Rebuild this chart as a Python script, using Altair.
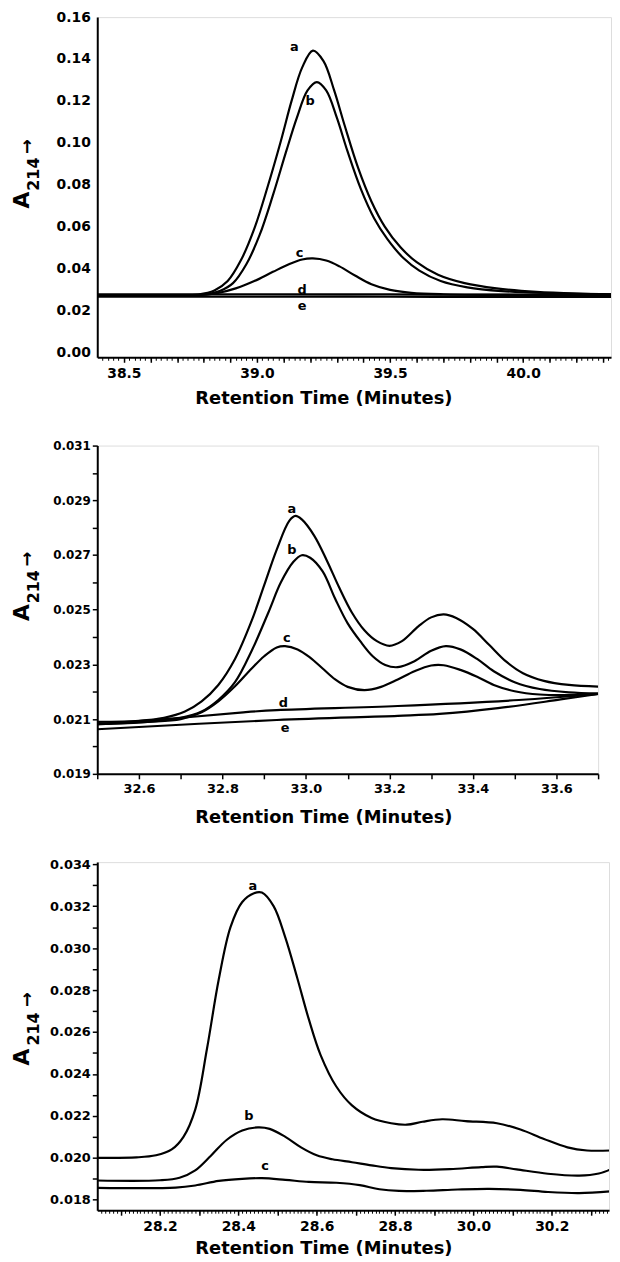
import json
import altair as alt
import pandas as pd

FONT = "DejaVu Sans"
X_TITLE = "Retention Time (Minutes)"
Y_TITLE_PARTS = ["A", "214", "→"]

# ---------------- Panel 1 (top) ----------------
P1_NAMES = ["a", "b", "c", "d", "e"]
P1_A_T = [38.40, 38.70, 38.78, 38.84, 38.89, 38.94, 38.99, 39.04, 39.09, 39.13, 39.17, 39.21, 39.25, 39.29, 39.33, 39.38, 39.43, 39.48, 39.54, 39.60, 39.68, 39.78, 39.90, 40.05, 40.20, 40.33]
P1_A_V = [0.0272, 0.0272, 0.0276, 0.0295, 0.0340, 0.0440, 0.0590, 0.0790, 0.1010, 0.1200, 0.1360, 0.1440, 0.1390, 0.1250, 0.1080, 0.0880, 0.0720, 0.0600, 0.0500, 0.0430, 0.0370, 0.0330, 0.0305, 0.0288, 0.0280, 0.0277]
P1_B_T = [38.40, 38.74, 38.81, 38.86, 38.91, 38.96, 39.01, 39.06, 39.11, 39.15, 39.19, 39.225, 39.26, 39.30, 39.34, 39.39, 39.44, 39.49, 39.55, 39.61, 39.69, 39.79, 39.92, 40.10, 40.33]
P1_B_V = [0.0272, 0.0272, 0.0276, 0.0292, 0.0330, 0.0420, 0.0560, 0.0750, 0.0960, 0.1120, 0.1250, 0.1290, 0.1250, 0.1120, 0.0960, 0.0780, 0.0640, 0.0540, 0.0450, 0.0390, 0.0340, 0.0310, 0.0292, 0.0282, 0.0276]
P1_C_T = [38.40, 38.78, 38.85, 38.92, 38.99, 39.06, 39.12, 39.17, 39.21, 39.26, 39.31, 39.37, 39.43, 39.50, 39.58, 39.70, 39.90, 40.33]
P1_C_V = [0.0272, 0.0273, 0.0282, 0.0305, 0.0340, 0.0384, 0.0420, 0.0443, 0.0448, 0.0438, 0.0410, 0.0365, 0.0325, 0.0298, 0.0284, 0.0277, 0.0274, 0.0272]
P1_D_T = [38.40, 39.00, 39.50, 40.00, 40.33]
P1_D_V = [0.0277, 0.0277, 0.0276, 0.0275, 0.0275]
P1_E_T = [38.40, 39.00, 39.50, 40.00, 40.33]
P1_E_V = [0.0266, 0.0266, 0.0265, 0.0264, 0.0264]
P1_LAB_T = [39.14, 39.20, 39.16, 39.17, 39.17]
P1_LAB_V = [0.1455, 0.1200, 0.0473, 0.0298, 0.0222]
P1_X_LABELS = [38.5, 39.0, 39.5, 40.0]
P1_Y_LABELS = [0.00, 0.02, 0.04, 0.06, 0.08, 0.10, 0.12, 0.14, 0.16]

# ---------------- Panel 2 (middle) ----------------
P2_NAMES = ["a", "b", "c", "d", "e"]
P2_A_T = [32.50, 32.60, 32.66, 32.71, 32.75, 32.79, 32.83, 32.87, 32.90, 32.93, 32.96, 32.975, 32.99, 33.02, 33.05, 33.08, 33.11, 33.14, 33.17, 33.20, 33.23, 33.27, 33.30, 33.33, 33.36, 33.40, 33.44, 33.48, 33.52, 33.57, 33.63, 33.70]
P2_A_V = [0.02090, 0.02094, 0.02105, 0.02128, 0.02165, 0.02225, 0.02320, 0.02460, 0.02590, 0.02720, 0.02825, 0.02843, 0.02830, 0.02770, 0.02680, 0.02580, 0.02490, 0.02425, 0.02385, 0.02368, 0.02385, 0.02440, 0.02472, 0.02483, 0.02470, 0.02430, 0.02370, 0.02310, 0.02268, 0.02240, 0.02225, 0.02219]
P2_B_T = [32.50, 32.62, 32.70, 32.75, 32.79, 32.83, 32.87, 32.91, 32.94, 32.97, 32.99, 33.01, 33.04, 33.07, 33.10, 33.13, 33.16, 33.19, 33.22, 33.26, 33.30, 33.335, 33.37, 33.41, 33.45, 33.50, 33.56, 33.63, 33.70]
P2_B_V = [0.02082, 0.02090, 0.02105, 0.02128, 0.02170, 0.02235, 0.02350, 0.02490, 0.02600, 0.02675, 0.02699, 0.02690, 0.02640, 0.02540, 0.02450, 0.02385, 0.02330, 0.02298, 0.02290, 0.02312, 0.02350, 0.02367, 0.02355, 0.02320, 0.02275, 0.02235, 0.02210, 0.02198, 0.02194]
P2_C_T = [32.50, 32.62, 32.70, 32.75, 32.79, 32.83, 32.87, 32.90, 32.93, 32.95, 32.98, 33.01, 33.04, 33.07, 33.10, 33.14, 33.18, 33.22, 33.26, 33.30, 33.33, 33.37, 33.41, 33.45, 33.50, 33.56, 33.63, 33.70]
P2_C_V = [0.02082, 0.02090, 0.02100, 0.02125, 0.02165, 0.02220, 0.02285, 0.02330, 0.02362, 0.02367, 0.02355, 0.02325, 0.02285, 0.02245, 0.02218, 0.02206, 0.02218, 0.02245, 0.02275, 0.02296, 0.02297, 0.02280, 0.02255, 0.02225, 0.02202, 0.02190, 0.02188, 0.02192]
P2_D_T = [32.50, 32.70, 32.85, 32.93, 33.22, 33.51, 33.70]
P2_D_V = [0.02082, 0.02105, 0.02125, 0.02133, 0.02148, 0.02170, 0.02192]
P2_E_T = [32.50, 32.93, 33.22, 33.32, 33.46, 33.61, 33.70]
P2_E_V = [0.02063, 0.02097, 0.02112, 0.02119, 0.02140, 0.02172, 0.02192]
P2_LAB_T = [32.966, 32.966, 32.954, 32.946, 32.95]
P2_LAB_V = [0.02869, 0.02719, 0.02398, 0.02158, 0.02067]
P2_X_LABELS = [32.6, 32.8, 33.0, 33.2, 33.4, 33.6]
P2_Y_LABELS = [0.019, 0.021, 0.023, 0.025, 0.027, 0.029, 0.031]

# ---------------- Panel 3 (bottom) ----------------
P3_NAMES = ["a", "b", "c"]
P3_A_T = [28.04, 28.14, 28.19, 28.23, 28.26, 28.29, 28.32, 28.35, 28.38, 28.41, 28.44, 28.46, 28.49, 28.52, 28.55, 28.58, 28.61, 28.65, 28.69, 28.74, 28.79, 28.83, 28.87, 28.92, 28.98, 29.06, 29.12, 29.18, 29.24, 29.29, 29.35]
P3_A_V = [0.02000, 0.02002, 0.02012, 0.02040, 0.02100, 0.02230, 0.02520, 0.02850, 0.03100, 0.03220, 0.03262, 0.03265, 0.03200, 0.03050, 0.02860, 0.02660, 0.02490, 0.02340, 0.02250, 0.02190, 0.02165, 0.02158, 0.02172, 0.02184, 0.02175, 0.02165, 0.02135, 0.02090, 0.02050, 0.02035, 0.02035]
P3_B_T = [28.04, 28.20, 28.25, 28.29, 28.33, 28.37, 28.41, 28.45, 28.48, 28.52, 28.56, 28.60, 28.64, 28.69, 28.74, 28.79, 28.86, 28.94, 29.02, 29.06, 29.11, 29.19, 29.27, 29.32, 29.35]
P3_B_V = [0.01892, 0.01893, 0.01905, 0.01940, 0.02010, 0.02085, 0.02130, 0.02145, 0.02138, 0.02100, 0.02050, 0.02012, 0.01993, 0.01979, 0.01964, 0.01951, 0.01943, 0.01946, 0.01956, 0.01958, 0.01945, 0.01924, 0.01915, 0.01925, 0.01945]
P3_C_T = [28.04, 28.24, 28.29, 28.35, 28.41, 28.46, 28.52, 28.58, 28.65, 28.71, 28.76, 28.81, 28.88, 28.96, 29.04, 29.12, 29.19, 29.27, 29.35]
P3_C_V = [0.01857, 0.01858, 0.01868, 0.01890, 0.01900, 0.01903, 0.01895, 0.01885, 0.01881, 0.01870, 0.01850, 0.01842, 0.01843, 0.01849, 0.01852, 0.01847, 0.01837, 0.01832, 0.01840]
P3_LAB_T = [28.437, 28.427, 28.468]
P3_LAB_V = [0.03298, 0.02200, 0.01963]
P3_X_TICK_VALUES = [28.2, 28.4, 28.6, 28.8, 29.0, 29.2]
P3_X_TICK_TEXT = ["28.2", "28.4", "28.6", "28.8", "30.0", "30.2"]
P3_Y_LABELS = [0.018, 0.020, 0.022, 0.024, 0.026, 0.028, 0.030, 0.032, 0.034]


def steps(lo, hi, step, nd):
    n = int(round((hi - lo) / step))
    return [round(lo + i * step, nd) for i in range(n + 1)]


def label_expr(labels, mult, fmt):
    keys = [int(round(v * mult)) for v in labels]
    return f"indexof({json.dumps(keys)}, round(datum.value * {mult})) >= 0 ? format(datum.value, '{fmt}') : ''"


def make_panel(names, ts, vs, widths, lab_t, lab_v, xdom, ydom, W, H,
               x_major, x_expr, x_minor, x_minor_size, x_label_size,
               y_major, y_expr, y_tick_size, y_label_size, y_label_pad,
               title_y, title_x, ytitle_pos):
    rows = []
    for n, tt, vv in zip(names, ts, vs):
        for t, v in zip(tt, vv):
            rows.append({"s": n, "t": t, "v": v})
    df = pd.DataFrame(rows)
    lab = pd.DataFrame({"s": names, "t": lab_t, "v": lab_v})

    xscale = alt.Scale(domain=xdom, nice=False, zero=False)
    yscale = alt.Scale(domain=ydom, nice=False, zero=False)

    lines = alt.Chart(df).mark_line(interpolate="catmull-rom", color="black", clip=True).encode(
        x=alt.X("t:Q", scale=xscale, axis=alt.Axis(
            orient="bottom", values=x_major, labelExpr=x_expr, labelFont=FONT,
            labelFontWeight="bold", labelFontSize=x_label_size, labelColor="black",
            labelPadding=4, labelFlush=False, labelOverlap=False, tickSize=5,
            tickColor="black", tickWidth=1.5, domainColor="black", domainWidth=2,
            grid=False, title=X_TITLE, titleFont=FONT, titleFontWeight="bold",
            titleFontSize=18, titleColor="black", titleX=title_x, titleY=title_y,
            titleAlign="center", titleBaseline="middle")),
        y=alt.Y("v:Q", scale=yscale, axis=alt.Axis(
            orient="left", values=y_major, labelExpr=y_expr, labelFont=FONT,
            labelFontWeight="bold", labelFontSize=y_label_size, labelColor="black",
            labelPadding=y_label_pad, labelFlush=False, labelOverlap=False,
            ticks=y_tick_size > 0, tickSize=max(y_tick_size, 1), tickColor="black",
            tickWidth=1.5, domainColor="black", domainWidth=2, grid=False, title=None)),
        detail="s:N",
        strokeWidth=alt.StrokeWidth("s:N", scale=alt.Scale(domain=names, range=widths), legend=None),
    )

    texts = alt.Chart(lab).mark_text(font=FONT, fontWeight="bold", fontSize=13,
                                     color="black", align="center", baseline="middle").encode(
        x=alt.X("t:Q", axis=alt.Axis(orient="bottom", values=x_minor, labels=False,
                                     domain=False, tickSize=x_minor_size, tickColor="black",
                                     tickWidth=1, grid=False, title=None)),
        y=alt.Y("v:Q", axis=None),
        text="s:N",
    )

    layers = [lines, texts]
    sizes = [22, 16, 18]
    for part, size, (px, py) in zip(Y_TITLE_PARTS, sizes, ytitle_pos):
        layers.append(
            alt.Chart(pd.DataFrame({"txt": [part]})).mark_text(
                font=FONT, fontWeight="bold", fontSize=size, color="black",
                angle=270, align="left", baseline="alphabetic").encode(
                x=alt.value(px), y=alt.value(py), text="txt:N")
        )
    return alt.layer(*layers).resolve_axis(x="independent", y="independent").properties(width=W, height=H)


p1 = make_panel(
    P1_NAMES, [P1_A_T, P1_B_T, P1_C_T, P1_D_T, P1_E_T], [P1_A_V, P1_B_V, P1_C_V, P1_D_V, P1_E_V],
    [2.2, 2.2, 1.6, 1.6, 1.6], P1_LAB_T, P1_LAB_V, [38.4, 40.33], [-0.0024, 0.16], 518, 343,
    steps(38.5, 40.3, 0.1, 2), label_expr(P1_X_LABELS, 10, ".1f"), steps(38.42, 40.32, 0.02, 2), 3, 14,
    P1_Y_LABELS, label_expr(P1_Y_LABELS, 100, ".2f"), 0, 14, 7,
    42, 228, [(-69, 193), (-59, 175), (-65, 138)])

p2 = make_panel(
    P2_NAMES, [P2_A_T, P2_B_T, P2_C_T, P2_D_T, P2_E_T], [P2_A_V, P2_B_V, P2_C_V, P2_D_V, P2_E_V],
    [1.8, 1.8, 1.8, 1.8, 1.8], P2_LAB_T, P2_LAB_V, [32.5, 33.7], [0.019, 0.031], 505, 331,
    steps(32.5, 33.7, 0.1, 2), label_expr(P2_X_LABELS, 10, ".1f"), [], 0, 13,
    steps(0.019, 0.031, 0.001, 4), label_expr(P2_Y_LABELS, 1000, ".3f"), 5, 12, 2,
    44, 228, [(-69, 177), (-59, 159), (-65, 122)])

p3_expr = (f"round(datum.value * 10) % 2 == 0 ? {json.dumps(P3_X_TICK_TEXT)}"
           f"[round((datum.value - {P3_X_TICK_VALUES[0]}) / 0.2)] : ''")
p3 = make_panel(
    P3_NAMES, [P3_A_T, P3_B_T, P3_C_T], [P3_A_V, P3_B_V, P3_C_V],
    [1.8, 1.8, 1.8], P3_LAB_T, P3_LAB_V, [28.04, 29.346], [0.0175, 0.0341], 516, 351,
    steps(28.1, 29.3, 0.1, 2), p3_expr, steps(28.05, 29.34, 0.01, 2), 3, 14,
    steps(0.018, 0.034, 0.001, 4), label_expr(P3_Y_LABELS, 1000, ".3f"), 5, 13, 2,
    39, 228, [(-69, 205), (-59, 185), (-65, 146)])

chart = alt.vconcat(p1, p2, p3, spacing=30).properties(
    padding={"left": 2, "top": -4, "right": 0, "bottom": 0}
).configure_view(stroke="black", strokeWidth=2).configure(background="white")

chart.save("out.html", embed_options={"renderer": "svg", "actions": False})
